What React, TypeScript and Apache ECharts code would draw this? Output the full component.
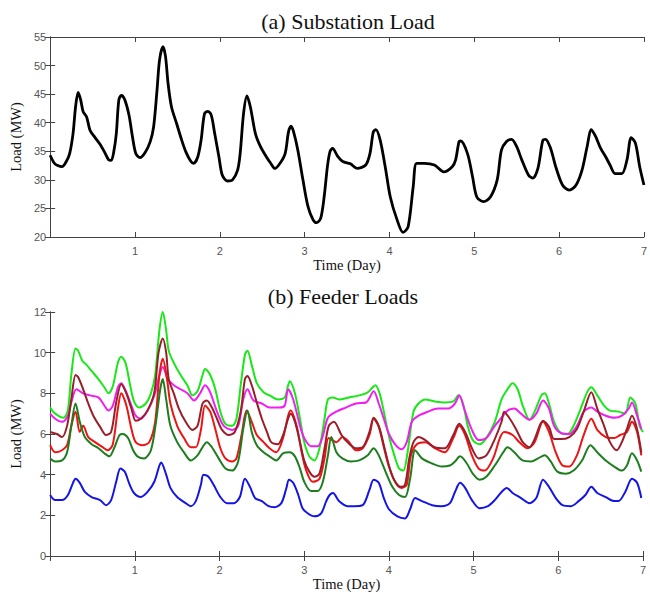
import React, { useEffect, useRef } from "react";
import * as echarts from "echarts";

type Pt = [number, number];

const dayTicks = [0, 1, 2, 3, 4, 5, 6, 7];

const substationLoad: Pt[] = [
  [0, 34.3], [0.05, 32.9], [0.09, 32.5], [0.14, 32.3], [0.19, 33.2], [0.23, 34.6], [0.27, 38.1], [0.3, 42.8], [0.33, 45.3], [0.36, 44],
  [0.39, 41.9], [0.43, 41], [0.47, 38.7], [0.52, 37.6], [0.58, 36.4], [0.64, 34.9], [0.69, 33.5], [0.72, 33.4], [0.75, 34.9], [0.78, 38.1],
  [0.81, 44], [0.84, 44.8], [0.88, 44], [0.93, 41.3], [0.97, 37.6], [1.01, 34.6], [1.06, 33.9], [1.12, 34.8], [1.18, 36.7], [1.22, 39.3],
  [1.26, 45.7], [1.29, 51], [1.33, 53.3], [1.36, 51.6], [1.39, 46.9], [1.43, 42.8], [1.49, 39.9], [1.55, 37], [1.6, 34.9], [1.66, 33.2],
  [1.69, 32.9], [1.74, 34], [1.78, 37], [1.82, 41.6], [1.86, 42], [1.9, 41.3], [1.94, 38.1], [1.99, 34], [2.03, 30.8], [2.09, 29.8],
  [2.15, 30], [2.21, 31.7], [2.24, 34.6], [2.28, 41.6], [2.32, 44.7], [2.36, 42.8], [2.42, 38.1], [2.48, 35.8], [2.55, 34], [2.6, 32.9],
  [2.65, 32], [2.71, 32.9], [2.77, 34.6], [2.81, 38.4], [2.84, 39.4], [2.87, 38.4], [2.92, 35.2], [2.98, 30], [3.04, 25.3], [3.1, 23],
  [3.14, 22.5], [3.19, 23.3], [3.23, 27], [3.27, 32.5], [3.3, 35], [3.33, 35.5], [3.39, 34.1], [3.45, 33.2], [3.54, 32.8], [3.62, 32],
  [3.72, 32.6], [3.77, 34.6], [3.81, 38.4], [3.84, 38.8], [3.89, 37], [3.95, 32.3], [4.01, 27], [4.09, 23], [4.16, 20.8], [4.22, 21.8],
  [4.28, 28.8], [4.32, 32.9], [4.41, 32.9], [4.53, 32.6], [4.64, 31.4], [4.74, 32.3], [4.78, 33.5], [4.82, 36.7], [4.84, 36.8], [4.92, 34.6],
  [4.98, 30.5], [5.03, 27], [5.11, 26.2], [5.19, 27], [5.27, 30], [5.32, 35.2], [5.38, 36.7], [5.44, 37.1], [5.5, 35.8], [5.56, 33.5],
  [5.64, 30.8], [5.69, 30.3], [5.75, 32], [5.81, 37], [5.84, 37.1], [5.9, 35.5], [5.96, 32.3], [6.04, 29.1], [6.12, 28.2], [6.2, 29.1],
  [6.27, 31.7], [6.33, 35.8], [6.38, 38.8], [6.43, 37.6], [6.49, 35.5], [6.55, 34], [6.6, 32.6], [6.66, 31.1], [6.74, 31.1], [6.8, 33.5],
  [6.85, 37.4], [6.9, 36.4], [6.95, 32.3], [7.0, 29.1],
];

const feederLime: Pt[] = [
  [0, 7.3], [0.06, 7.0], [0.16, 6.8], [0.21, 7.2], [0.25, 8.9], [0.3, 10.2], [0.33, 10.1], [0.38, 9.6], [0.43, 9.4], [0.49, 9.1],
  [0.57, 8.7], [0.64, 8.3], [0.69, 8.0], [0.74, 8.35], [0.8, 9.5], [0.84, 9.8], [0.89, 9.5], [0.94, 8.5], [0.99, 7.6], [1.05, 7.3],
  [1.13, 7.5], [1.19, 8.0], [1.24, 8.9], [1.29, 11.1], [1.33, 12.0], [1.37, 11.1], [1.4, 10.1], [1.46, 9.5], [1.54, 8.9], [1.62, 8.4],
  [1.68, 7.9], [1.74, 8.1], [1.8, 8.9], [1.83, 9.2], [1.89, 8.9], [1.95, 8.2], [2.01, 7.1], [2.07, 6.5], [2.15, 6.4], [2.2, 6.75],
  [2.25, 8.4], [2.3, 9.9], [2.33, 10.1], [2.38, 9.4], [2.44, 8.5], [2.52, 8.05], [2.59, 7.9], [2.69, 7.7], [2.77, 7.8], [2.81, 8.4],
  [2.83, 8.6], [2.89, 8.0], [2.95, 6.75], [3.0, 5.6], [3.06, 4.9], [3.12, 4.7], [3.18, 5.3], [3.24, 6.75], [3.28, 7.7], [3.34, 7.8],
  [3.41, 7.7], [3.53, 7.8], [3.65, 7.9], [3.75, 8.05], [3.81, 8.3], [3.84, 8.4], [3.89, 8.0], [3.94, 7.1], [4.0, 5.9], [4.06, 5.0],
  [4.12, 4.3], [4.17, 4.2], [4.22, 5.1], [4.29, 7.1], [4.35, 7.5], [4.43, 7.7], [4.54, 7.6], [4.66, 7.55], [4.76, 7.6], [4.82, 7.9],
  [4.88, 7.4], [4.93, 6.4], [4.99, 5.7], [5.07, 5.5], [5.15, 5.8], [5.25, 6.6], [5.33, 7.7], [5.4, 8.2], [5.46, 8.5], [5.52, 8.2],
  [5.58, 7.4], [5.66, 6.7], [5.72, 7.1], [5.8, 7.9], [5.84, 8.0], [5.89, 7.5], [5.95, 6.6], [6.03, 6.05], [6.11, 6.0], [6.18, 6.4],
  [6.26, 7.2], [6.34, 8.05], [6.39, 8.3], [6.46, 7.9], [6.54, 7.4], [6.61, 7.15], [6.71, 7.1], [6.79, 7.0], [6.85, 7.8], [6.91, 7.5],
  [6.96, 6.4], [7.0, 6.1],
];

const feederMagenta: Pt[] = [
  [0, 7.0], [0.06, 6.75], [0.14, 6.6], [0.21, 6.9], [0.25, 7.55], [0.31, 8.2], [0.39, 8.0], [0.47, 7.9], [0.57, 7.8], [0.64, 7.4],
  [0.69, 7.15], [0.74, 7.4], [0.8, 8.3], [0.84, 8.5], [0.9, 8.05], [0.96, 7.4], [1.01, 6.9], [1.07, 6.75], [1.15, 7.15], [1.23, 7.9],
  [1.29, 8.9], [1.33, 9.3], [1.39, 8.7], [1.46, 8.4], [1.54, 8.2], [1.62, 8.0], [1.7, 7.65], [1.77, 8.0], [1.83, 8.4], [1.89, 8.05],
  [1.97, 7.1], [2.05, 6.4], [2.15, 6.2], [2.22, 6.4], [2.28, 7.7], [2.33, 8.2], [2.4, 7.65], [2.5, 7.5], [2.59, 7.3], [2.71, 7.3],
  [2.77, 7.4], [2.81, 8.2], [2.87, 7.7], [2.95, 6.4], [3.0, 5.8], [3.08, 5.4], [3.16, 5.4], [3.22, 5.9], [3.28, 6.8], [3.38, 7.1],
  [3.49, 7.3], [3.61, 7.5], [3.73, 7.55], [3.82, 8.1], [3.88, 7.5], [3.94, 6.75], [4.0, 6.0], [4.08, 5.45], [4.15, 5.25], [4.21, 5.6],
  [4.27, 6.6], [4.35, 6.9], [4.46, 7.1], [4.58, 7.25], [4.7, 7.25], [4.78, 7.5], [4.83, 7.9], [4.9, 7.1], [4.98, 6.2], [5.06, 5.7],
  [5.15, 5.8], [5.25, 6.4], [5.33, 6.8], [5.4, 7.15], [5.48, 7.25], [5.56, 7.0], [5.66, 6.7], [5.74, 7.0], [5.82, 7.65], [5.89, 7.25],
  [5.95, 6.4], [6.03, 6.05], [6.13, 6.0], [6.22, 6.4], [6.3, 7.1], [6.39, 7.3], [6.46, 7.1], [6.56, 6.9], [6.66, 6.8], [6.75, 6.9],
  [6.83, 7.25], [6.87, 7.55], [6.93, 6.9], [6.98, 6.25],
];

const feederMaroon: Pt[] = [
  [0, 6.1], [0.08, 6.0], [0.14, 5.85], [0.2, 6.4], [0.25, 7.7], [0.3, 8.9], [0.33, 8.8], [0.39, 8.2], [0.45, 7.5], [0.51, 6.9],
  [0.59, 6.35], [0.66, 5.95], [0.72, 6.1], [0.78, 7.55], [0.84, 8.45], [0.9, 8.0], [0.96, 7.25], [1.01, 6.65], [1.07, 6.75], [1.15, 7.15],
  [1.23, 8.05], [1.28, 10.0], [1.33, 10.7], [1.37, 10.0], [1.4, 8.7], [1.46, 8.0], [1.52, 7.25], [1.6, 6.6], [1.68, 6.2], [1.74, 6.4],
  [1.8, 7.5], [1.85, 7.65], [1.91, 7.3], [1.97, 6.75], [2.03, 6.2], [2.11, 5.95], [2.18, 6.1], [2.25, 7.1], [2.3, 8.7], [2.33, 8.85],
  [2.38, 8.4], [2.44, 7.55], [2.5, 6.75], [2.56, 6.1], [2.61, 5.6], [2.69, 5.5], [2.75, 5.95], [2.81, 6.75], [2.84, 7.0], [2.89, 6.6],
  [2.95, 5.6], [3.0, 4.7], [3.06, 4.15], [3.12, 3.9], [3.18, 4.05], [3.24, 5.3], [3.29, 6.4], [3.35, 6.6], [3.44, 5.95], [3.51, 5.6],
  [3.61, 5.3], [3.69, 5.35], [3.77, 6.1], [3.82, 6.8], [3.88, 6.4], [3.94, 5.45], [4.0, 4.45], [4.06, 3.75], [4.14, 3.4], [4.19, 3.5],
  [4.24, 4.8], [4.29, 5.6], [4.35, 5.85], [4.43, 5.7], [4.54, 5.35], [4.66, 5.3], [4.76, 5.95], [4.83, 6.5], [4.9, 6.1], [4.98, 5.3],
  [5.06, 4.8], [5.15, 4.95], [5.25, 5.75], [5.33, 6.6], [5.36, 7.1], [5.42, 6.8], [5.5, 6.25], [5.58, 5.6], [5.66, 5.35], [5.72, 5.75],
  [5.82, 6.65], [5.89, 6.35], [5.95, 5.75], [6.03, 5.75], [6.13, 5.85], [6.22, 6.25], [6.3, 7.1], [6.39, 8.05], [6.46, 7.25], [6.54, 6.4],
  [6.61, 5.6], [6.69, 5.2], [6.75, 5.6], [6.81, 6.25], [6.87, 6.9], [6.93, 6.25], [6.98, 5.1],
];

const feederRed: Pt[] = [
  [0, 5.45], [0.06, 5.1], [0.14, 5.2], [0.2, 5.45], [0.25, 6.4], [0.3, 7.1], [0.35, 6.1], [0.39, 6.4], [0.45, 5.85], [0.53, 5.6],
  [0.62, 5.35], [0.68, 5.2], [0.74, 5.5], [0.8, 7.25], [0.84, 8.0], [0.9, 7.4], [0.96, 6.25], [1.01, 5.6], [1.09, 5.45], [1.17, 5.6],
  [1.24, 6.6], [1.29, 8.9], [1.33, 9.7], [1.38, 8.7], [1.42, 7.5], [1.5, 6.4], [1.58, 5.8], [1.66, 5.35], [1.72, 5.35], [1.78, 6.2],
  [1.83, 7.4], [1.89, 7.1], [1.95, 6.25], [2.01, 5.3], [2.07, 4.8], [2.15, 4.65], [2.2, 4.8], [2.26, 5.95], [2.32, 7.15], [2.38, 6.6],
  [2.44, 5.95], [2.52, 5.6], [2.59, 5.3], [2.67, 5.1], [2.75, 5.8], [2.81, 6.9], [2.84, 7.15], [2.91, 6.4], [2.97, 5.1], [3.02, 4.25],
  [3.1, 3.65], [3.18, 3.8], [3.24, 4.8], [3.29, 5.8], [3.38, 5.6], [3.45, 5.85], [3.53, 5.6], [3.61, 5.2], [3.69, 5.3], [3.77, 5.95],
  [3.82, 6.75], [3.88, 6.35], [3.94, 5.35], [4.0, 4.4], [4.08, 3.6], [4.15, 3.35], [4.21, 3.5], [4.26, 4.95], [4.33, 5.5], [4.43, 5.6],
  [4.54, 5.3], [4.66, 5.1], [4.76, 5.8], [4.83, 6.4], [4.9, 5.95], [4.98, 4.95], [5.06, 4.3], [5.13, 4.2], [5.23, 4.8], [5.31, 5.8],
  [5.36, 6.1], [5.46, 5.95], [5.54, 5.6], [5.64, 5.3], [5.72, 5.6], [5.82, 6.6], [5.89, 6.1], [5.97, 5.1], [6.05, 4.45], [6.13, 4.4],
  [6.22, 4.95], [6.3, 5.95], [6.39, 6.75], [6.46, 6.2], [6.56, 5.85], [6.66, 5.8], [6.73, 5.95], [6.81, 6.1], [6.87, 6.6], [6.93, 6.1],
  [6.98, 4.95],
];

const feederDarkGreen: Pt[] = [
  [0, 4.8], [0.06, 4.65], [0.14, 4.7], [0.2, 5.1], [0.25, 6.4], [0.3, 7.5], [0.35, 6.6], [0.41, 5.85], [0.49, 5.5], [0.57, 5.3],
  [0.64, 5.05], [0.7, 4.9], [0.76, 5.35], [0.82, 5.95], [0.86, 6.0], [0.92, 5.8], [0.98, 5.2], [1.03, 4.9], [1.11, 4.8], [1.19, 5.2],
  [1.25, 6.6], [1.3, 8.2], [1.33, 8.7], [1.37, 7.7], [1.42, 6.4], [1.5, 5.6], [1.58, 5.1], [1.66, 4.7], [1.74, 4.95], [1.8, 5.35],
  [1.85, 5.6], [1.91, 5.35], [1.99, 4.8], [2.07, 4.3], [2.15, 4.2], [2.22, 4.65], [2.28, 6.25], [2.33, 7.15], [2.38, 6.1], [2.44, 5.45],
  [2.52, 5.1], [2.59, 4.9], [2.67, 4.7], [2.75, 5.05], [2.83, 5.1], [2.89, 4.9], [2.95, 4.3], [3.0, 3.65], [3.08, 3.2], [3.16, 3.2],
  [3.22, 3.65], [3.28, 4.95], [3.32, 5.85], [3.38, 5.1], [3.45, 4.8], [3.55, 4.65], [3.65, 4.7], [3.75, 4.95], [3.82, 5.3], [3.88, 4.95],
  [3.96, 4.15], [4.04, 3.4], [4.12, 3.0], [4.19, 2.9], [4.25, 3.8], [4.31, 5.2], [4.39, 4.8], [4.51, 4.55], [4.62, 4.4], [4.72, 4.45],
  [4.78, 4.65], [4.84, 4.9], [4.92, 4.55], [4.99, 4.05], [5.07, 3.75], [5.15, 3.9], [5.25, 4.45], [5.35, 5.1], [5.4, 5.35], [5.48, 5.1],
  [5.58, 4.7], [5.68, 4.65], [5.76, 4.8], [5.84, 4.95], [5.91, 4.65], [5.99, 4.15], [6.09, 4.05], [6.18, 4.2], [6.28, 4.7], [6.38, 5.45],
  [6.46, 5.1], [6.56, 4.7], [6.66, 4.4], [6.75, 4.2], [6.81, 4.45], [6.87, 5.05], [6.93, 4.7], [6.98, 4.15],
];

const feederBlue: Pt[] = [
  [0, 3.0], [0.06, 2.75], [0.14, 2.75], [0.21, 3.0], [0.27, 3.6], [0.3, 3.8], [0.35, 3.6], [0.41, 3.15], [0.49, 2.9], [0.59, 2.75],
  [0.66, 2.5], [0.72, 2.75], [0.78, 3.65], [0.83, 4.3], [0.88, 4.15], [0.94, 3.5], [0.99, 3.1], [1.07, 2.9], [1.15, 3.15], [1.23, 3.65],
  [1.29, 4.45], [1.31, 4.6], [1.37, 4.0], [1.42, 3.35], [1.5, 2.9], [1.6, 2.6], [1.66, 2.45], [1.72, 2.7], [1.78, 3.5], [1.81, 4.0],
  [1.87, 3.9], [1.93, 3.5], [2.01, 2.9], [2.09, 2.6], [2.17, 2.6], [2.24, 2.9], [2.3, 3.8], [2.36, 3.4], [2.42, 2.85], [2.5, 2.7],
  [2.58, 2.45], [2.65, 2.4], [2.73, 2.6], [2.79, 3.35], [2.82, 3.75], [2.87, 3.6], [2.93, 3.0], [2.98, 2.35], [3.04, 2.1], [3.12, 1.95],
  [3.2, 2.1], [3.26, 2.7], [3.3, 3.0], [3.34, 3.1], [3.41, 2.7], [3.51, 2.45], [3.59, 2.45], [3.69, 2.5], [3.77, 3.25], [3.82, 3.75],
  [3.88, 3.6], [3.94, 2.85], [4.0, 2.3], [4.1, 1.95], [4.19, 1.85], [4.25, 2.3], [4.31, 2.85], [4.39, 2.7], [4.51, 2.5], [4.62, 2.45],
  [4.72, 2.6], [4.78, 3.15], [4.84, 3.6], [4.9, 3.35], [4.98, 2.75], [5.07, 2.35], [5.17, 2.45], [5.25, 2.75], [5.33, 3.15], [5.39, 3.35],
  [5.46, 3.1], [5.56, 2.85], [5.66, 2.6], [5.74, 2.85], [5.82, 3.75], [5.89, 3.4], [5.97, 2.85], [6.05, 2.5], [6.15, 2.45], [6.24, 2.7],
  [6.32, 3.0], [6.39, 3.4], [6.46, 3.1], [6.56, 2.9], [6.66, 2.7], [6.71, 2.7], [6.79, 3.15], [6.87, 3.8], [6.93, 3.6], [6.98, 2.85],
];

const feederSeries: { name: string; color: string; data: Pt[] }[] = [
  { name: "Feeder 1", color: "#18e818", data: feederLime },
  { name: "Feeder 2", color: "#f01ef0", data: feederMagenta },
  { name: "Feeder 3", color: "#ee1414", data: feederRed },
  { name: "Feeder 4", color: "#9a1e2a", data: feederMaroon },
  { name: "Feeder 5", color: "#1e7d1e", data: feederDarkGreen },
  { name: "Feeder 6", color: "#1414e6", data: feederBlue },
];

const SERIF = "'Liberation Serif', 'Times New Roman', serif";
const SANS = "'Liberation Sans', Arial, sans-serif";

function mainX(gridIndex: number, nameGap: number) {
  return {
    type: "value",
    gridIndex,
    min: dayTicks[0],
    max: dayTicks[dayTicks.length - 1],
    interval: 1,
    name: "Time (Day)",
    nameLocation: "middle",
    nameGap,
    nameTextStyle: { fontFamily: SERIF, fontSize: 14.5, color: "#111", fontWeight: "normal" },
    axisLine: { show: true, lineStyle: { color: "#444", width: 1 } },
    axisTick: { show: true, inside: true, length: 5, lineStyle: { color: "#444" } },
    axisLabel: {
      show: true,
      margin: 8,
      fontFamily: SANS,
      fontSize: 11,
      color: "#555",
      formatter: (v: number) => (v === 0 ? "" : String(v)),
    },
    splitLine: { show: false },
  };
}

function mirrorX(gridIndex: number) {
  return {
    type: "value",
    gridIndex,
    position: "top",
    min: dayTicks[0],
    max: dayTicks[dayTicks.length - 1],
    interval: 1,
    axisLine: { show: true, lineStyle: { color: "#444", width: 1 } },
    axisTick: { show: true, inside: true, length: 5, lineStyle: { color: "#444" } },
    axisLabel: { show: false },
    splitLine: { show: false },
  };
}

function mainY(gridIndex: number, min: number, max: number, interval: number, nameGap: number) {
  return {
    type: "value",
    gridIndex,
    min,
    max,
    interval,
    name: "Load (MW)",
    nameLocation: "middle",
    nameGap,
    nameRotate: 90,
    nameTextStyle: { fontFamily: SERIF, fontSize: 14.5, color: "#111", fontWeight: "normal" },
    axisLine: { show: true, lineStyle: { color: "#444", width: 1 } },
    axisTick: { show: true, inside: true, length: 5, lineStyle: { color: "#444" } },
    axisLabel: { show: true, margin: 4, fontFamily: SANS, fontSize: 11, color: "#555" },
    splitLine: { show: false },
  };
}

function mirrorY(gridIndex: number, min: number, max: number, interval: number) {
  return {
    type: "value",
    gridIndex,
    position: "right",
    min,
    max,
    interval,
    axisLine: { show: true, lineStyle: { color: "#444", width: 1 } },
    axisTick: { show: true, inside: true, length: 5, lineStyle: { color: "#444" } },
    axisLabel: { show: false },
    splitLine: { show: false },
  };
}

export default function App() {
  const ref = useRef<HTMLDivElement | null>(null);

  useEffect(() => {
    if (!ref.current) return;
    const chart = echarts.init(ref.current, undefined, { renderer: "svg" });
    const option: any = {
      animation: false,
      backgroundColor: "#ffffff",
      grid: [
        { left: 48, top: 37, width: 601, height: 200 },
        { left: 45, top: 312, width: 598, height: 246 },
      ],
      xAxis: [mainX(0, 20), mirrorX(0), mainX(1, 20), mirrorX(1)],
      yAxis: [
        mainY(0, 20, 55, 5, 20),
        mirrorY(0, 20, 55, 5),
        mainY(1, 0, 12, 2, 19),
        mirrorY(1, 0, 12, 2),
      ],
      graphic: [
        {
          type: "text",
          x: 348,
          y: 21,
          style: { text: "(a) Substation Load", font: `22px ${SERIF}`, fill: "#111", align: "center", verticalAlign: "middle" },
        },
        {
          type: "text",
          x: 343,
          y: 296,
          style: { text: "(b) Feeder Loads", font: `22px ${SERIF}`, fill: "#111", align: "center", verticalAlign: "middle" },
        },
      ],
      series: [
        {
          name: "Substation",
          type: "line",
          xAxisIndex: 0,
          yAxisIndex: 0,
          data: substationLoad,
          showSymbol: false,
          smooth: 0.3,
          lineStyle: { color: "#000", width: 2.8 },
          itemStyle: { color: "#000" },
        },
        ...feederSeries.map((s) => ({
          name: s.name,
          type: "line",
          xAxisIndex: 2,
          yAxisIndex: 2,
          data: s.data,
          showSymbol: false,
          smooth: 0.3,
          lineStyle: { color: s.color, width: 2 },
          itemStyle: { color: s.color },
        })),
      ],
    };
    chart.setOption(option);
    return () => {
      chart.dispose();
    };
  }, []);

  return (
    <div
      ref={ref}
      style={{ position: "fixed", left: 0, top: 0, width: 650, height: 592, background: "#fff" }}
    />
  );
}
